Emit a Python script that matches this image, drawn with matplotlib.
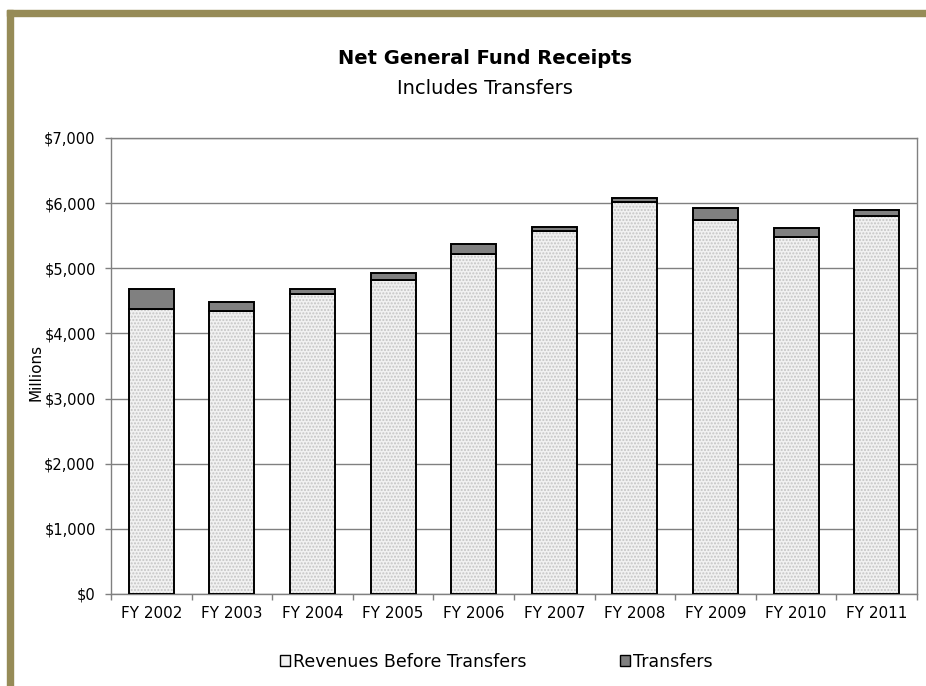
import matplotlib
matplotlib.use("Agg")
import matplotlib.pyplot as plt
from matplotlib.patches import Patch, Rectangle
from matplotlib.ticker import FuncFormatter, MultipleLocator
import numpy as np

# fiscal years and receipts, $ millions
years = ["FY 2002", "FY 2003", "FY 2004", "FY 2005", "FY 2006",
         "FY 2007", "FY 2008", "FY 2009", "FY 2010", "FY 2011"]
revenues = [4370, 4340, 4610, 4825, 5219, 5577, 6013, 5737, 5480, 5798]
transfers = [313, 138, 72, 98, 159, 61, 66, 184, 138, 97]

plt.rcParams["font.family"] = ["DejaVu Sans"]

W, H = 926, 686
fig = plt.figure(figsize=(W / 100, H / 100), dpi=100)
fig.patch.set_facecolor("white")

# olive frame along the top and left edge
olive = "#968b57"
fig.patches.append(Rectangle((7 / W, 1 - 16 / H), 1 - 7 / W, 6 / H,
                             transform=fig.transFigure, color=olive, zorder=0))
fig.patches.append(Rectangle((7 / W, 0), 6 / W, 1 - 10 / H,
                             transform=fig.transFigure, color=olive, zorder=0))

ax = fig.add_axes([111 / W, (H - 594) / H, 806 / W, 456 / H])

x = np.arange(len(years))
bw = 0.56
# dotted light fill, then the black outline on top
ax.bar(x, revenues, bw, color="#f1f1f1", edgecolor="#c4c4c4", hatch=".....",
       linewidth=0, zorder=3)
ax.bar(x, revenues, bw, fill=False, edgecolor="black", linewidth=1.4, zorder=4)
ax.bar(x, transfers, bw, bottom=revenues, color="#808080", edgecolor="black",
       linewidth=1.4, zorder=4)

ax.set_xlim(-0.5, len(years) - 0.5)
ax.set_ylim(0, 7000)
ax.yaxis.set_major_locator(MultipleLocator(1000))
ax.yaxis.set_major_formatter(FuncFormatter(lambda v, p: "${:,.0f}".format(v)))
ax.grid(axis="y", color="#808080", linewidth=1.0, zorder=1)

ax.set_xticks(x)
ax.set_xticklabels(years)
ax.set_xticks(np.arange(-0.5, len(years)), minor=True)
ax.tick_params(axis="x", which="major", length=0, pad=9, labelsize=11)
ax.tick_params(axis="x", which="minor", length=4, width=1, color="#808080",
               direction="out")
ax.tick_params(axis="y", length=4, width=1, color="#808080", pad=7,
               labelsize=10.5)

for s in ax.spines.values():
    s.set_color("#808080")
    s.set_linewidth(1.0)

fig.text(36 / W, 1 - 372 / H, "Millions", rotation=90, ha="center",
         va="center", fontsize=11)

fig.text(485 / W, 1 - 63.5 / H, "Net General Fund Receipts", ha="center",
         va="baseline", fontsize=14, fontweight="bold")
fig.text(485 / W, 1 - 93.5 / H, "Includes Transfers", ha="center",
         va="baseline", fontsize=14)

handles = [Patch(facecolor="#f1f1f1", edgecolor="black", linewidth=1.0),
           Patch(facecolor="#808080", edgecolor="black", linewidth=1.0)]
fig.legend(handles, ["Revenues Before Transfers", "Transfers"],
           loc="center", bbox_to_anchor=(496 / W, 1 - 662 / H), ncol=2,
           frameon=False, fontsize=12.5, handlelength=0.6, handleheight=0.6,
           handletextpad=0.15, columnspacing=5.4)

fig.savefig("out.png", dpi=100)
